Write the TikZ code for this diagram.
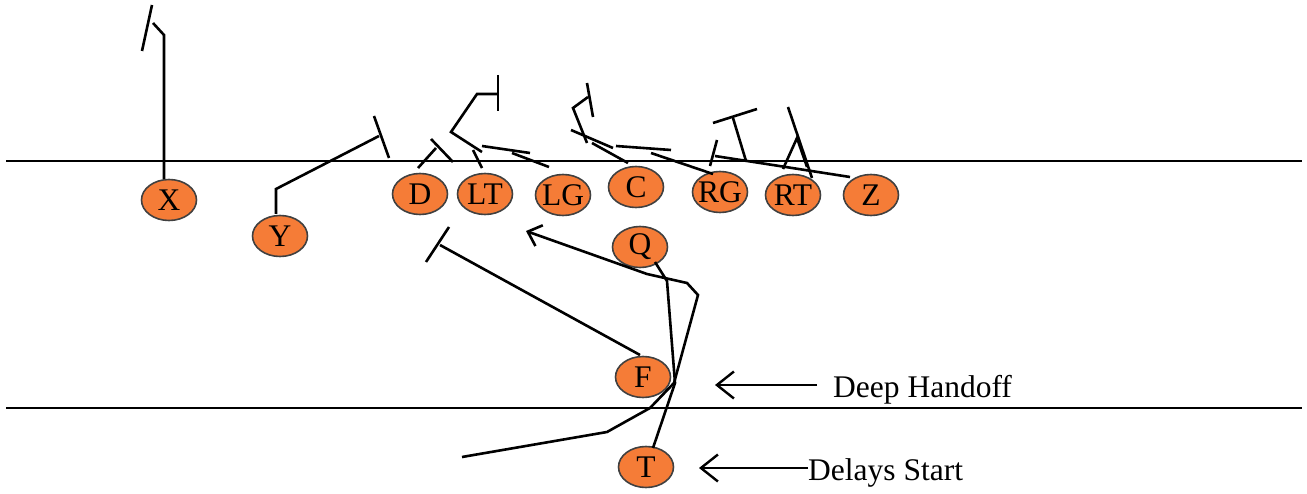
\documentclass[tikz,border=0pt]{standalone}
\usepackage{fontspec}
\setmainfont{Liberation Serif}
\usetikzlibrary{arrows.meta,shapes.geometric}
\definecolor{playerfill}{RGB}{245,124,55}
\begin{document}
\begin{tikzpicture}[x=1pt,y=-1pt,
  player/.style={ellipse,draw=black!75,line width=1.6pt,fill=playerfill,
    minimum width=55pt,minimum height=41pt,inner sep=0pt,
    font=\fontsize{31.5}{36}\selectfont},
  route/.style={line width=2.6pt},
  field/.style={line width=2.4pt},
  barb/.style={line width=2.4pt,-{Straight Barb[length=17pt,width=27pt,line width=2.4pt]}},
  qbarb/.style={line width=2.6pt,-{Straight Barb[length=12pt,width=22pt,line width=2.6pt]}},
  lbl/.style={font=\fontsize{31.5}{36}\selectfont,inner sep=0pt,anchor=base west}]
\useasboundingbox (0,0) rectangle (1307,494);
% field lines
\draw[field] (6,161) -- (1302,161);
\draw[field] (6,408) -- (1302,408);
% players
\node[player] (X)  at (169,200) {\makebox[0pt]{X}};
\node[player] (Y)  at (280,236) {\makebox[0pt]{Y}};
\node[player] (D)  at (420,194) {\makebox[0pt]{D}};
\node[player] (LT) at (485,194) {\makebox[0pt]{LT}};
\node[player] (LG) at (563,195) {\makebox[0pt]{LG}};
\node[player] (C)  at (636,187) {\makebox[0pt]{C}};
\node[player] (RG) at (720,192) {\makebox[0pt]{RG}};
\node[player] (RT) at (793,195) {\makebox[0pt]{RT}};
\node[player] (Z)  at (871,195) {\makebox[0pt]{Z}};
\node[player] (Q)  at (640,247) {\makebox[0pt]{Q}};
\node[player] (F)  at (643,377) {\makebox[0pt]{F}};
\node[player] (T)  at (646,467) {\makebox[0pt]{T}};
% X
\draw[route] ([shift={(-5,-21)}]X.center) -- (164,35) -- (153,23);
\draw[route] (152,5) -- (142,51);
% Y
\draw[route] ([shift={(-4,-22)}]Y.center) -- (276,189) -- (379,136);
\draw[route] (374,116) -- (389,158);
% D
\draw[route] ([shift={(-2,-26)}]D.center) -- (436,148);
\draw[route] (431,139) -- (453,162);
% LT
\draw[route] ([shift={(-3,-26)}]LT.center) -- (473,150);
\draw[route] (482,152) -- (451,132) -- (477,94) -- (497,94);
\draw[route] (498,75) -- (498,111);
\draw[route] (482,146) -- (530,153);
% LG
\draw[route] ([shift={(-14,-28)}]LG.center) -- (512,153);
% C
\draw[route] (571,130) -- (613,148);
\draw[route] ([shift={(-8,-24)}]C.center) -- (592,143);
\draw[route] (587,143) -- (573,108) -- (588,97);
\draw[route] (587,83) -- (593,117);
\draw[route] (616,146) -- (671,150);
% RG
\draw[route] ([shift={(-7,-18)}]RG.center) -- (651,153);
\draw[route] ([shift={(-10,-26)}]RG.center) -- (717,140);
% Z
\draw[route] ([shift={(-21,-18)}]Z.center) -- (715,156);
\draw[route] (713,123) -- (757,109);
\draw[route] (733,118) -- (746,161);
% RT
\draw[route] ([shift={(-10,-26)}]RT.center) -- (797,138) -- (807,167);
\draw[route] ([shift={(19,-17)}]RT.center) -- (788,107);
% backfield
\draw[qbarb] (462,457) -- (607,432) -- (650,408) -- (674,383) -- (698,295) -- (687,283) -- (647,274) -- (526,231);
\draw[route] ([shift={(15,15)}]Q.center) -- (667,281) -- (675,383) -- ([shift={(7,-19)}]T.center);
\draw[route] ([shift={(-3,-22)}]F.center) -- (440,245);
\draw[route] (449,227) -- (426,262);
% annotations
\node[lbl] (hand) at (833,397) {Deep Handoff};
\node[lbl] (delay) at (808,480) {Delays Start};
\coordinate (handtip) at (715,385);
\coordinate (delaytip) at (699,468);
\draw[barb] (hand.west |- handtip) ++(-16,0) -- (handtip);
\draw[barb] (delay.west |- delaytip) -- (delaytip);
\end{tikzpicture}
\end{document}
